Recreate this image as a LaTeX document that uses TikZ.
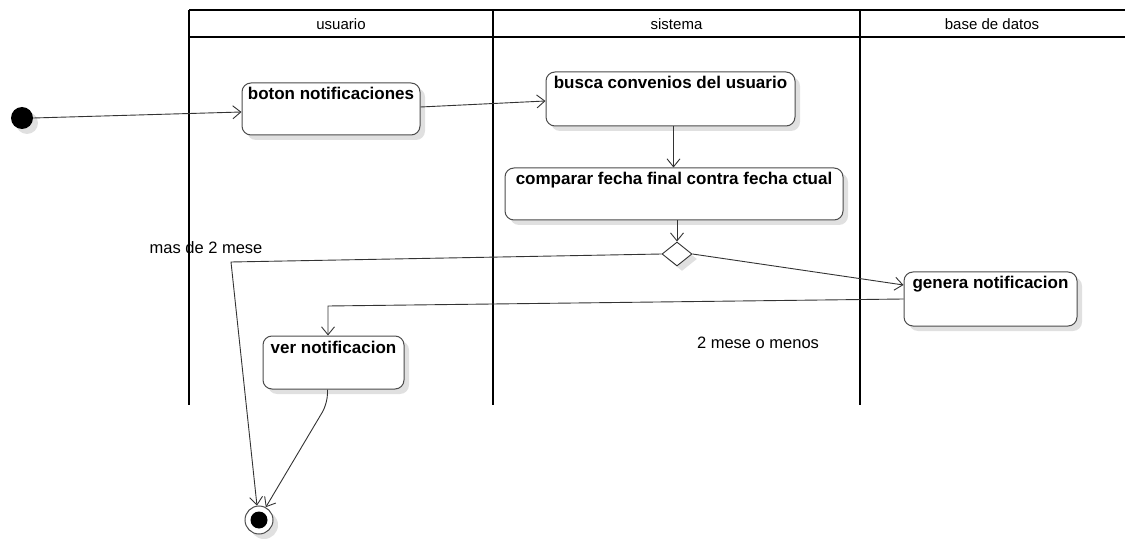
\documentclass[tikz,border=0pt]{standalone}
\usepackage{fontspec}
\setmainfont{Liberation Sans}
\usetikzlibrary{arrows.meta,shapes.geometric,shadows}

\begin{document}
\begin{tikzpicture}[x=1pt, y=-1pt, >={Straight Barb[length=8pt,width=13pt]},
  lane/.style={line width=1.8pt},
  lanetitle/.style={font=\fontsize{15}{17}\selectfont},
  shade/.style={drop shadow={shadow xshift=5pt, shadow yshift=-5pt, fill=black!12, opacity=1}},
  act/.style={draw=black!70, line width=1pt, fill=white, rounded corners=9pt, shade,
    font=\fontsize{17}{19}\selectfont\bfseries, text height=13pt, text depth=31pt,
    inner xsep=0pt, inner ysep=4pt},
  flow/.style={->, draw=black!80, line width=0.9pt},
  guard/.style={font=\fontsize{16.5}{18}\selectfont}]
  \useasboundingbox (0,0) rectangle (1125,540);

  % swimlanes
  \draw[lane] (189,10) -- (1127,10);
  \draw[lane] (189,37) -- (1127,37);
  \foreach \xl in {189,493,860}
    \draw[lane] (\xl,10) -- (\xl,405);
  \node[lanetitle] (laneuser) at (341,24) {usuario};
  \node[lanetitle] (lanesys) at (676.5,24) {sistema};
  \node[lanetitle] (lanedb) at (992,24) {base de datos};

  % start and end
  \node[circle, fill=black, minimum size=22pt, inner sep=0pt, shade] (start) at (22,118) {};
  \node[circle, draw=black!70, line width=1pt, fill=white, minimum size=28pt, inner sep=0pt, shade] (stop) at (259,520) {};
  \node[circle, fill=black, minimum size=17pt, inner sep=0pt] (stopdot) at (stop) {};

  % activities
  \node[act, minimum width=178pt] (boton) at (331,109) {boton notificaciones};
  \node[act, minimum width=249pt, text depth=33pt] (busca) at (670.5,99) {busca convenios del usuario};
  \node[act, minimum width=338pt] (comparar) at (674,194) {comparar fecha final contra fecha ctual};
  \node[diamond, draw=black!80, line width=0.9pt, fill=white, minimum width=30pt,
    minimum height=24pt, inner sep=0pt, shade] (dec) at (677,254) {};
  \node[act, minimum width=173pt, text depth=33pt] (genera) at (990.5,299) {genera notificacion};
  \node[act, minimum width=141pt, text depth=32pt] (ver) at (333.5,362.5) {ver notificacion};

  % flows
  \draw[flow] (start.east) -- ([yshift=-3pt]boton.west);
  \draw[flow] ([yshift=2pt]boton.east) -- ([yshift=-2pt]busca.west);
  \draw[flow] ([xshift=3pt]busca.south) -- ([xshift=3pt]busca.south |- comparar.north);
  \draw[flow] (comparar.south -| dec.north) -- (dec.north);
  \coordinate (bendmas) at (231,262);
  \draw[flow] (dec.west) -- (bendmas) -- (stop.98);
  \node[guard] (lblmas) at (206,248) {mas de 2 mese};
  \draw[flow] (dec.east) -- ([yshift=14pt]genera.west);
  \coordinate (bendgen) at (328,306);
  \draw[flow] (genera.west) -- (bendgen) -- (bendgen |- ver.north);
  \node[guard] (lblmenos) at (758,343) {2 mese o menos};
  \draw[flow, rounded corners=10pt] ([xshift=-6pt]ver.south) -- ++(0,14) -- (stop.62);
\end{tikzpicture}
\end{document}
